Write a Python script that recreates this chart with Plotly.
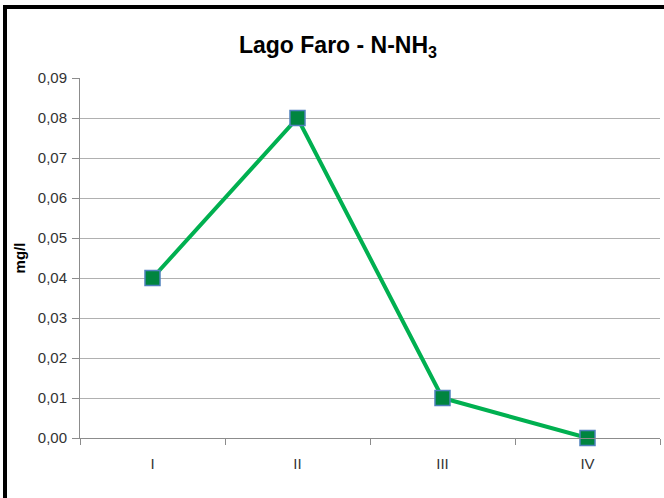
import plotly.graph_objects as go

categories = ["I", "II", "III", "IV"]
values = [0.04, 0.08, 0.01, 0.0]
y_ticks = [0, 0.01, 0.02, 0.03, 0.04, 0.05, 0.06, 0.07, 0.08, 0.09]
y_tick_labels = ["0,00", "0,01", "0,02", "0,03", "0,04", "0,05", "0,06", "0,07", "0,08", "0,09"]

W, H = 664, 498
L, R, T, B = 80, 4, 78, 60

fig = go.Figure()
fig.add_trace(go.Scatter(
    x=categories, y=values, mode="lines+markers",
    line=dict(color="#00B050", width=4),
    marker=dict(symbol="square", size=15, color="#00853F",
                line=dict(color="#4F81BD", width=1.5)),
    showlegend=False, cliponaxis=False,
))

pw = W - L - R
ph = H - T - B
def px(x):
    return (x - L) / pw
def py(y):
    return (H - B - y) / ph

# left and top border of the chart frame
fig.add_shape(type="line", xref="paper", yref="paper",
              x0=px(5), x1=px(5), y0=py(5), y1=py(H + 5),
              line=dict(color="black", width=4), layer="below")
fig.add_shape(type="line", xref="paper", yref="paper",
              x0=px(3), x1=px(W + 5), y0=py(7), y1=py(7),
              line=dict(color="black", width=4), layer="below")

fig.update_layout(
    width=W, height=H,
    margin=dict(l=L, r=R, t=T, b=B),
    paper_bgcolor="white", plot_bgcolor="white",
    font=dict(family="Liberation Sans, Arial, sans-serif", color="#333333", size=15),
    title=dict(text="<b>Lago Faro - N-NH<sub>3</sub></b>", x=338 / W, xanchor="center",
               y=1 - 45 / H, yanchor="middle",
               font=dict(size=23, color="black")),
    xaxis=dict(type="category", showgrid=False, showline=True, linecolor="#8C8C8C",
               linewidth=1, ticks="outside", tickson="boundaries", ticklen=6,
               tickcolor="#8C8C8C", range=[-0.5, 3.5], ticklabelstandoff=12),
    yaxis=dict(range=[0, 0.09], tickvals=y_ticks, ticktext=y_tick_labels,
               showgrid=True, gridcolor="#B0B0B0", gridwidth=1,
               showline=True, linecolor="#8C8C8C", ticks="outside", ticklen=7,
               tickcolor="#8C8C8C", zeroline=False, ticklabelstandoff=2,
               title=dict(text="<b>mg/l</b>", font=dict(size=15, color="black"),
                          standoff=8)),
)

fig.write_html("out.html", config={"displayModeBar": False},
               post_script="document.body.style.margin='0';")
